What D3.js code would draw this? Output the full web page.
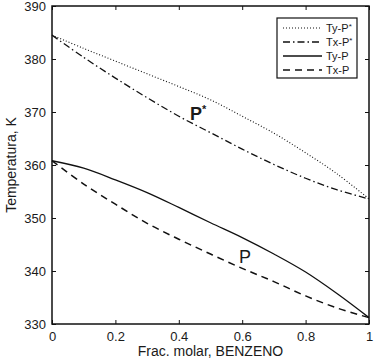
<!DOCTYPE html>
<html><head><meta charset="utf-8">
<script src="https://cdn.jsdelivr.net/npm/d3@7"></script>
<style>body{margin:0;background:#fff}svg{display:block}text{font-family:"Liberation Sans",Arial,sans-serif;fill:#1a1a1a}</style>
</head><body><svg id="c" width="380" height="361"></svg>
<script>
const xFrac = [0,0.1,0.2,0.3,0.4,0.5,0.6,0.7,0.8,0.9,1.0];
const tyPstar = [384.5,382.0,379.6,377.2,374.8,372.3,369.2,366.0,362.3,358.3,353.6];
const txPstar = [384.5,380.3,376.4,372.7,369.2,366.1,363.0,360.1,357.5,355.3,353.6];
const tyP = [360.8,359.4,357.2,354.8,352.0,349.1,346.3,343.2,339.8,335.7,331.2];
const txP = [360.8,356.4,352.6,349.0,346.0,343.2,340.5,338.0,335.3,333.0,331.2];
const xTicks = [0,0.2,0.4,0.6,0.8,1];
const yTicks = [330,340,350,360,370,380,390];
const seriesNames = ["Ty-P*","Tx-P*","Ty-P","Tx-P"];

const L=52,R=369,T=6,B=324;
const svg=d3.select("#c");
const x=d3.scaleLinear().domain([0,1]).range([L,R]);
const y=d3.scaleLinear().domain([330,390]).range([B,T]);

const styles=[
 {dash:"1,2",w:1.1},
 {dash:"7,3,1.5,3",w:1.3},
 {dash:null,w:1.3},
 {dash:"7,5",w:1.5}
];
const data=[tyPstar,txPstar,tyP,txP];
const line=d3.line().x((d,i)=>x(xFrac[i])).y(d=>y(d)).curve(d3.curveCatmullRom);
data.forEach((s,k)=>{
  const p=svg.append("path").attr("d",line(s)).attr("fill","none").attr("stroke","#111").attr("stroke-width",styles[k].w);
  if(styles[k].dash) p.attr("stroke-dasharray",styles[k].dash);
});

// axes
const fmt=d=>d===0||d===1?String(d):d3.format(".1f")(d);
const gx=svg.append("g").attr("transform",`translate(0,${B})`).call(d3.axisBottom(x).tickValues(xTicks).tickFormat(fmt).tickSizeInner(-4).tickSizeOuter(0).tickPadding(8));
const gxt=svg.append("g").attr("transform",`translate(0,${T})`).call(d3.axisTop(x).tickValues(xTicks).tickFormat("").tickSizeInner(-4).tickSizeOuter(0));
const gy=svg.append("g").attr("transform",`translate(${L},0)`).call(d3.axisLeft(y).tickValues(yTicks).tickSizeInner(-4).tickSizeOuter(0).tickPadding(6));
const gyr=svg.append("g").attr("transform",`translate(${R},0)`).call(d3.axisRight(y).tickValues(yTicks).tickFormat("").tickSizeInner(-4).tickSizeOuter(0));
[gx,gxt,gy,gyr].forEach(g=>{g.select(".domain").remove();g.selectAll("line").attr("stroke","#111");g.selectAll("text").attr("font-size",13).attr("fill","#1a1a1a").style("font-family","Liberation Sans, Arial, sans-serif");});
svg.append("rect").attr("x",L).attr("y",T).attr("width",R-L).attr("height",B-T).attr("fill","none").attr("stroke","#111").attr("stroke-width",1.5);

svg.append("text").attr("x",(L+R)/2).attr("y",356).attr("text-anchor","middle").attr("font-size",14).text("Frac. molar, BENZENO");
svg.append("text").attr("transform",`translate(16,${(T+B)/2}) rotate(-90)`).attr("text-anchor","middle").attr("font-size",14).text("Temperatura, K");

// annotations
const a1=svg.append("text").attr("x",x(0.435)).attr("y",y(368.4)).attr("font-size",18).attr("font-weight","bold");
a1.append("tspan").text("P");
a1.append("tspan").attr("font-size",11).attr("dy",-7).text("*");
svg.append("text").attr("x",x(0.59)).attr("y",y(341.5)).attr("font-size",18).text("P");

// legend
const lg=svg.append("g");
lg.append("rect").attr("x",277).attr("y",18).attr("width",80).attr("height",60).attr("fill","#fff").attr("stroke","#111").attr("stroke-width",1.2);
seriesNames.forEach((n,k)=>{
  const yy=28+k*14;
  const l=lg.append("line").attr("x1",283).attr("x2",322).attr("y1",yy).attr("y2",yy).attr("stroke","#111").attr("stroke-width",styles[k].w);
  if(styles[k].dash) l.attr("stroke-dasharray",styles[k].dash);
  const t=lg.append("text").attr("x",326).attr("y",yy+4).attr("font-size",11);
  if(n.endsWith("*")){t.append("tspan").text(n.slice(0,-1));t.append("tspan").attr("font-size",8).attr("dy",-3).text("*");}
  else t.text(n);
});
</script></body></html>
